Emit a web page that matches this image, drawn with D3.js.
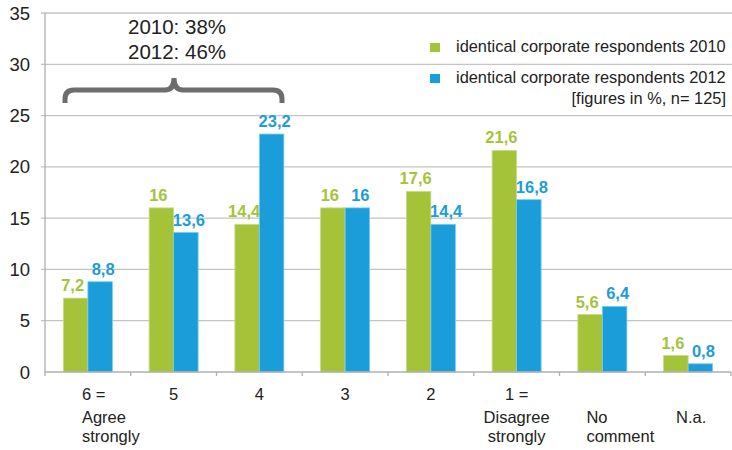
<!DOCTYPE html>
<html>
<head>
<meta charset="utf-8">
<script src="https://d3js.org/d3.v7.min.js"></script>
<style>
  body { margin: 0; background: #fff; }
  text { font-family: "Liberation Sans", Arial, sans-serif; }
</style>
</head>
<body>
<div id="chart"></div>
<script>
// data
const categories = ["6 =|Agree|strongly", "5", "4", "3", "2", "1 =|Disagree|strongly", "No|comment", "N.a."];
const values2010 = [7.2, 16, 14.4, 16, 17.6, 21.6, 5.6, 1.6];
const values2012 = [8.8, 13.6, 23.2, 16, 14.4, 16.8, 6.4, 0.8];
const seriesNames = ["identical corporate respondents 2010", "identical corporate respondents 2012"];
const yTicks = [0, 5, 10, 15, 20, 25, 30, 35];
const braceText = ["2010: 38%", "2012: 46%"];

const width = 732, height = 450;
const green = "#a5c339", blue = "#1b9dd9";

const svg = d3.select("#chart").append("svg")
    .attr("width", width)
    .attr("height", height);

const x = d3.scaleBand()
    .domain(categories)
    .range([45, 731]);

const y = d3.scaleLinear()
    .domain([0, 35])
    .range([372, 13]);

const inner = d3.scaleBand()
    .domain([0, 1])
    .range([0, x.bandwidth()])
    .paddingOuter(0.75)
    .paddingInner(0);

// grid lines
svg.append("g")
    .selectAll("line")
    .data(yTicks.filter(d => d > 0))
    .enter()
    .append("line")
    .attr("x1", 41)
    .attr("x2", width)
    .attr("y1", d => y(d))
    .attr("y2", d => y(d))
    .style("stroke", "#c4c4c4")
    .style("stroke-width", "1.3px");

// y axis labels
svg.append("g")
    .selectAll("text")
    .data(yTicks)
    .enter()
    .append("text")
    .attr("x", 30)
    .attr("y", d => y(d) + 6.5)
    .attr("text-anchor", "end")
    .style("font-size", "18.5px")
    .style("fill", "#222")
    .text(d => d);

// axis lines
svg.append("line")
    .attr("x1", 45).attr("x2", 45)
    .attr("y1", y(35)).attr("y2", y(0))
    .style("stroke", "#b0b0b0").style("stroke-width", "1.3px");

// bars
const series = [values2010, values2012];
const colors = [green, blue];
const strokes = ["#c6db86", "#7ccaf0"];

series.forEach((vals, s) => {
    svg.append("g")
        .selectAll("rect")
        .data(vals)
        .enter()
        .append("rect")
        .attr("x", (d, i) => x(categories[i]) + inner(s))
        .attr("y", d => y(d))
        .attr("width", inner.bandwidth())
        .attr("height", d => y(0) - y(d))
        .style("fill", colors[s])
        .style("stroke", strokes[s])
        .style("stroke-width", "0.8px");

    svg.append("g")
        .selectAll("text")
        .data(vals)
        .enter()
        .append("text")
        .attr("x", (d, i) => x(categories[i]) + inner(s) + inner.bandwidth() / 2 + (s === 0 ? -3 : 3))
        .attr("y", d => y(d) - 7)
        .attr("text-anchor", "middle")
        .style("font-size", "16.5px")
        .style("font-weight", "bold")
        .style("fill", colors[s])
        .text(d => String(d).replace(".", ","));
});

// x axis line and ticks
svg.append("line")
    .attr("x1", 45).attr("x2", 731)
    .attr("y1", y(0)).attr("y2", y(0))
    .style("stroke", "#b0b0b0").style("stroke-width", "1.3px");

svg.append("g")
    .selectAll("line")
    .data(categories.map(c => x(c)).concat([731]))
    .enter()
    .append("line")
    .attr("x1", d => d).attr("x2", d => d)
    .attr("y1", y(0)).attr("y2", y(0) + 4)
    .style("stroke", "#b0b0b0").style("stroke-width", "1.3px");

// category labels (first and "No comment" sit left-aligned like the original)
const labelGroups = svg.append("g")
    .selectAll("text")
    .data(categories)
    .enter()
    .append("text")
    .attr("text-anchor", (d, i) => (i === 0 || i === 6) ? "start" : "middle")
    .attr("x", (d, i) => {
        const c = x(d) + x.bandwidth() / 2;
        if (i === 0) return c - 6;
        if (i === 6) return c - 16;
        if (i === 7) return c + 3;
        return c;
    })
    .style("font-size", "16.5px")
    .style("fill", "#222");

labelGroups.each(function (d, i) {
    const lines = d.split("|");
    const t = d3.select(this);
    lines.forEach((ln, k) => {
        let ly = [400, 423, 442][k];
        if (i === 6) ly = 423 + k * 19;
        if (i === 7) ly = 423;
        t.append("tspan")
            .attr("x", t.attr("x"))
            .attr("y", ly)
            .text(ln);
    });
});

// brace
const bx0 = 65, bx1 = 282, bmid = 174, btop = 78, bline = 90, bend = 103;
const r = 9;
svg.append("path")
    .attr("d", `M${bx0},${bend} L${bx0},${bline + r} Q${bx0},${bline} ${bx0 + r},${bline}
                L${bmid - r},${bline} Q${bmid},${bline} ${bmid},${btop}
                Q${bmid},${bline} ${bmid + r},${bline}
                L${bx1 - r},${bline} Q${bx1},${bline} ${bx1},${bline + r} L${bx1},${bend}`)
    .style("fill", "none")
    .style("stroke", "#6d6d6d")
    .style("stroke-width", "5px");

svg.append("g")
    .selectAll("text")
    .data(braceText)
    .enter()
    .append("text")
    .attr("x", 177)
    .attr("y", (d, i) => 34 + i * 25)
    .attr("text-anchor", "middle")
    .style("font-size", "20.5px")
    .style("fill", "#222")
    .text(d => d);

// legend
const legend = svg.append("g");
seriesNames.forEach((name, i) => {
    legend.append("rect")
        .attr("x", 430)
        .attr("y", 43 + i * 31)
        .attr("width", 10)
        .attr("height", 9)
        .style("fill", colors[i]);
    legend.append("text")
        .attr("x", 456)
        .attr("y", 52 + i * 31)
        .style("font-size", "16.4px")
        .style("fill", "#222")
        .text(name);
});
legend.append("text")
    .attr("x", 726)
    .attr("y", 104)
    .attr("text-anchor", "end")
    .style("font-size", "16.4px")
    .style("fill", "#222")
    .text("[figures in %, n= 125]");
</script>
</body>
</html>
